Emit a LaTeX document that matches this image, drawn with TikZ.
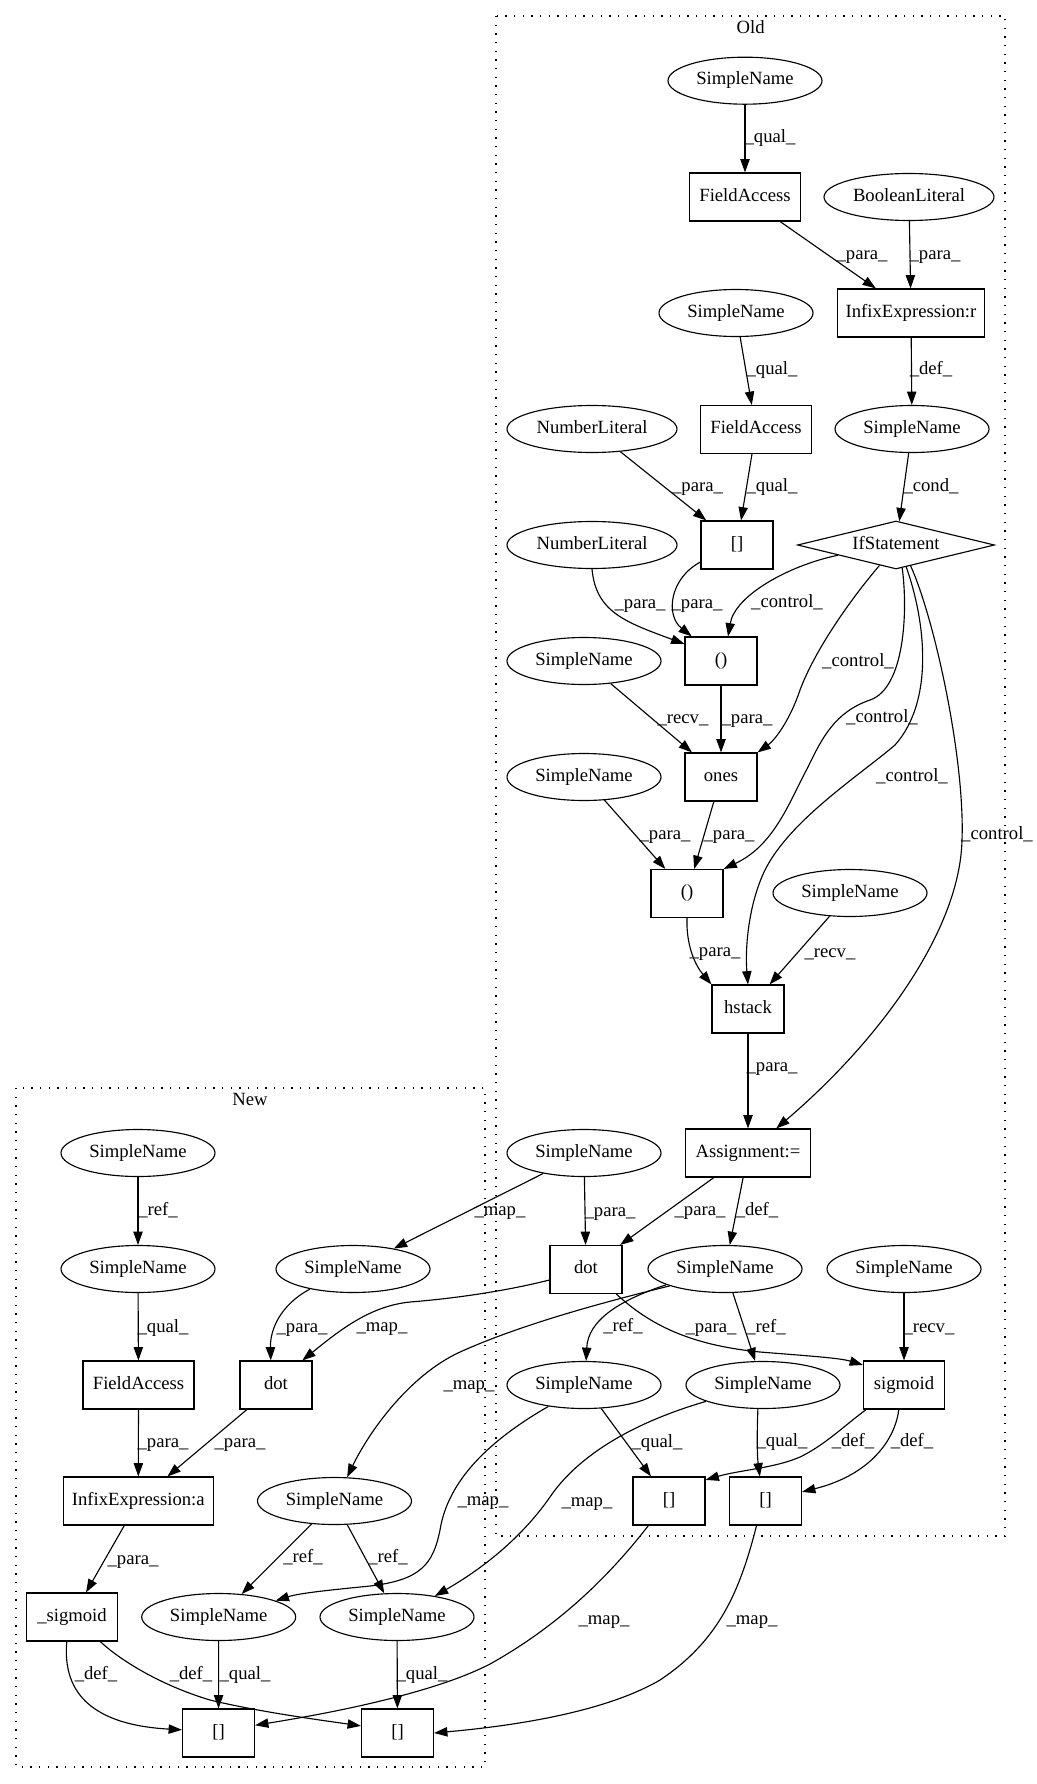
\documentclass[tikz,border=0pt]{standalone}
\usepackage{fontspec}
\setmainfont{Liberation Serif}
\usetikzlibrary{arrows.meta,shapes.geometric}
\begin{document}
\begin{tikzpicture}[x=0.75pt,y=-0.75pt,
  every node/.style={font=\fontsize{14pt}{16pt}\selectfont, text height=9.6pt, text depth=3.2pt},
  ell/.style={draw, ellipse, minimum width=115.5pt, minimum height=35.25pt, inner sep=0pt, line width=0.85pt},
  ellw/.style={ell, minimum width=127.5pt},
  bx/.style={draw, rectangle, minimum height=36pt, minimum width=54pt, inner sep=0pt, line width=0.85pt},
  dia/.style={draw, diamond, minimum width=147.75pt, minimum height=36pt, inner sep=0pt, aspect=4, line width=0.85pt},
  arr/.style={-{Triangle[length=10pt,width=7pt]}, line width=0.85pt},
  lbl/.style={inner sep=0pt},
  clus/.style={draw, line width=0.9pt, dash pattern=on 0.9pt off 5.6pt},
]
\fill[white] (0,0) rectangle (1037,1784);
\useasboundingbox (0,0) rectangle (1037,1784);

% clusters
\draw[clus] (496,16) rectangle (1005,1536);
\node[lbl] (oldlbl) at (750.7,29.5) {Old};
\draw[clus] (16,1088) rectangle (485,1767);
\node[lbl] (newlbl) at (250,1101.7) {New};

% Old nodes
\node[ell] (o_sn1) at (745,80.7) {SimpleName};
\node[bx, minimum width=83.25pt] (o_fa1) at (745,197) {FieldAccess};
\node[ellw] (o_bool) at (909,197) {BooleanLiteral};
\node[bx, minimum width=110.25pt] (o_infr) at (911,313) {InfixExpression:r};
\node[ell] (o_sn2) at (736,313) {SimpleName};
\node[ell] (o_sn3) at (912,429) {SimpleName};
\node[bx, minimum width=83.25pt] (o_fa2) at (756,429.5) {FieldAccess};
\node[ellw] (o_num1) at (592,429) {NumberLiteral};
\node[bx] (o_br1) at (737,545) {[]};
\node[dia] (o_if) at (896,545) {IfStatement};
\node[ellw] (o_num2) at (592,545) {NumberLiteral};
\node[bx] (o_par1) at (721,661) {()};
\node[ell] (o_snrecv) at (584,661) {SimpleName};
\node[bx] (o_ones) at (721,777) {ones};
\node[ell] (o_snpara) at (584,777) {SimpleName};
\node[bx] (o_par2) at (687,893.5) {()};
\node[ell] (o_snrh) at (850,893) {SimpleName};
\node[bx] (o_hstack) at (748,1009) {hstack};
\node[bx, minimum width=93.75pt] (o_assign) at (748,1153) {Assignment:=};
\node[ell] (o_snl) at (584,1153) {SimpleName};
\node[bx] (o_dot) at (586,1269.5) {dot};
\node[ell] (o_sndef) at (725,1269) {SimpleName};
\node[ell] (o_snrs) at (904,1269) {SimpleName};
\node[ell] (o_snrl) at (584,1385) {SimpleName};
\node[ell] (o_snrr) at (763,1385) {SimpleName};
\node[bx, minimum width=60.75pt] (o_sig) at (904,1385) {sigmoid};
\node[bx] (o_bra) at (669,1501) {[]};
\node[bx] (o_brb) at (765.5,1501) {[]};

% New nodes
\node[ell] (n_sn1) at (138,1153) {SimpleName};
\node[ell] (n_sn2) at (138,1269) {SimpleName};
\node[ell] (n_sndp) at (353,1269) {SimpleName};
\node[bx, minimum width=83.25pt] (n_fa) at (138.5,1385) {FieldAccess};
\node[bx] (n_dot) at (276,1385) {dot};
\node[bx, minimum width=112.5pt] (n_infa) at (138.3,1501) {InfixExpression:a};
\node[ell] (n_snmid) at (334.5,1501) {SimpleName};
\node[bx, minimum width=67.7pt] (n_sig) at (72,1617) {\_sigmoid};
\node[ell] (n_snlb) at (218.7,1617) {SimpleName};
\node[ell] (n_snrb) at (397,1617) {SimpleName};
\node[bx] (n_brl) at (218.5,1733) {[]};
\node[bx] (n_brr) at (397.5,1733) {[]};

% Old edges
\draw[arr] (o_sn1) -- (o_fa1);
\draw[arr] (o_fa1) -- (o_infr);
\draw[arr] (o_bool) -- (o_infr);
\draw[arr] (o_infr) -- (o_sn3);
\draw[arr] (o_sn2) -- (o_fa2);
\draw[arr] (o_sn3) -- (o_if);
\draw[arr] (o_num1) -- (o_br1);
\draw[arr] (o_fa2) -- (o_br1);
\draw[arr] (o_num2.south) .. controls (596,612) and (625,622) .. (o_par1.155);
\draw[arr] (o_br1.205) .. controls (670,578) and (665,615) .. (o_par1.140);
\draw[arr] (o_if.190) .. controls (790,565) and (735,595) .. (o_par1.74);
\draw[arr] (o_if.231) .. controls (850,600) and (815,650) .. (800,690) .. controls (790,720) and (775,740) .. (o_ones.north east);
\draw[arr] (o_if.285) .. controls (908,610) and (905,688) .. (870,700) .. controls (835,712) and (822,738) .. (808,767) .. controls (790,800) and (775,845) .. (o_par2.north east);
\draw[arr] (o_if.295) .. controls (925,620) and (935,700) .. (895,745) .. controls (860,775) and (790,820) .. (765,870) .. controls (748,905) and (745,950) .. (o_hstack.north);
\draw[arr] (o_if.305) .. controls (935,620) and (965,760) .. (962,840) .. controls (960,930) and (880,1040) .. (o_assign.41);
\draw[arr] (o_snrecv) -- (o_ones);
\draw[arr] (o_par1) -- (o_ones);
\draw[arr] (o_snpara) -- (o_par2);
\draw[arr] (o_ones) -- (o_par2);
\draw[arr] (o_par2.south) .. controls (686,945) and (695,965) .. (o_hstack.north west);
\draw[arr] (o_snrh) -- (o_hstack);
\draw[arr] (o_hstack) -- (o_assign);
\draw[arr] (o_snl) -- (o_dot);
\draw[arr] (o_assign) -- (o_dot);
\draw[arr] (o_assign) -- (o_sndef);
\draw[arr] (o_sndef.195) .. controls (620,1300) and (588,1320) .. (o_snrl.85);
\draw[arr] (o_sndef) -- (o_snrr);
\draw[arr] (o_dot.321) .. controls (650,1325) and (690,1345) .. (760,1352) .. controls (810,1356) and (840,1358) .. (o_sig.154);
\draw[arr] (o_snrs) -- (o_sig);
\draw[arr] (o_snrl) -- (o_bra);
\draw[arr] (o_snrr.258) .. controls (757,1430) and (757,1455) .. (o_brb.103);
\draw[arr] (o_sig.213) .. controls (845,1425) and (825,1445) .. (800,1457) .. controls (775,1468) and (740,1470) .. (o_bra.30);
\draw[arr] (o_sig.258) .. controls (895,1440) and (870,1475) .. (o_brb.14);

% cross edges
\draw[arr] (o_snl) -- (n_sndp);
\draw[arr] (o_dot.196) .. controls (510,1290) and (460,1298) .. (410,1302) .. controls (370,1306) and (340,1330) .. (n_dot.43);
\draw[arr] (o_sndef.197) .. controls (600,1303) and (520,1325) .. (460,1352) .. controls (410,1375) and (370,1430) .. (n_snmid.62);
\draw[arr] (o_snrl.211) .. controls (490,1440) and (448,1480) .. (440,1530) .. controls (433,1565) and (420,1580) .. (370,1586) .. controls (330,1590) and (300,1593) .. (n_snlb.16);
\draw[arr] (o_snrr.196) .. controls (625,1425) and (575,1460) .. (550,1497) .. controls (520,1540) and (480,1570) .. (n_snrb.29);
\draw[arr] (o_bra.230) .. controls (610,1575) and (560,1625) .. (490,1664) .. controls (440,1690) and (350,1710) .. (n_brl.12);
\draw[arr] (o_brb.250) .. controls (740,1590) and (720,1640) .. (660,1680) .. controls (600,1715) and (500,1727) .. (n_brr.east);

% New edges
\draw[arr] (n_sn1) -- (n_sn2);
\draw[arr] (n_sn2) -- (n_fa);
\draw[arr] (n_fa) -- (n_infa);
\draw[arr] (n_sndp.205) .. controls (280,1305) and (270,1330) .. (n_dot.102);
\draw[arr] (n_dot) -- (n_infa);
\draw[arr] (n_infa) -- (n_sig);
\draw[arr] (n_snmid) -- (n_snlb);
\draw[arr] (n_snmid) -- (n_snrb);
\draw[arr] (n_sig.258) .. controls (62,1695) and (95,1725) .. (n_brl.175);
\draw[arr] (n_sig.319) .. controls (120,1660) and (160,1685) .. (210,1700) .. controls (260,1712) and (320,1720) .. (n_brr.169);
\draw[arr] (n_snlb) -- (n_brl);
\draw[arr] (n_snrb) -- (n_brr);

% edge labels
\node[lbl] (l1) at (770,138.5) {\_qual\_};
\node[lbl] (l2) at (862,255) {\_para\_};
\node[lbl] (l3) at (935,255) {\_para\_};
\node[lbl] (l4) at (931,370.5) {\_def\_};
\node[lbl] (l5) at (772,370.5) {\_qual\_};
\node[lbl] (l6) at (931,487) {\_cond\_};
\node[lbl] (l7) at (697.5,487) {\_para\_};
\node[lbl] (l8) at (772,487) {\_qual\_};
\node[lbl] (l9) at (640,604) {\_para\_};
\node[lbl] (l10) at (697,604) {\_para\_};
\node[lbl] (l11) at (787,603) {\_control\_};
\node[lbl] (l12) at (858,662) {\_control\_};
\node[lbl] (l13) at (882,718) {\_control\_};
\node[lbl] (l14) at (912,777) {\_control\_};
\node[lbl] (l15) at (997,835) {\_control\_};
\node[lbl] (l16) at (683,719) {\_recv\_};
\node[lbl] (l17) at (747,719) {\_para\_};
\node[lbl] (l18) at (665,835) {\_para\_};
\node[lbl] (l19) at (729,835) {\_para\_};
\node[lbl] (l20) at (715,952) {\_para\_};
\node[lbl] (l21) at (830,953) {\_recv\_};
\node[lbl] (l22) at (772,1067) {\_para\_};
\node[lbl] (l23) at (610,1212) {\_para\_};
\node[lbl] (l24) at (700,1211) {\_para\_};
\node[lbl] (l25) at (757,1211) {\_def\_};
\node[lbl] (l26) at (623,1327) {\_ref\_};
\node[lbl] (l27) at (766,1328) {\_ref\_};
\node[lbl] (l28) at (711,1328) {\_para\_};
\node[lbl] (l29) at (929,1328) {\_recv\_};
\node[lbl] (l30) at (657,1443) {\_qual\_};
\node[lbl] (l31) at (782,1442) {\_qual\_};
\node[lbl] (l32) at (853,1442) {\_def\_};
\node[lbl] (l33) at (912,1442) {\_def\_};
\node[lbl] (l34) at (500,1211) {\_map\_};
\node[lbl] (l35) at (382,1327) {\_map\_};
\node[lbl] (l36) at (469,1385) {\_map\_};
\node[lbl] (l37) at (483,1501) {\_map\_};
\node[lbl] (l38) at (587,1502) {\_map\_};
\node[lbl] (l39) at (604,1620) {\_map\_};
\node[lbl] (l40) at (752,1620) {\_map\_};
\node[lbl] (l41) at (158,1211) {\_ref\_};
\node[lbl] (l42) at (163,1328) {\_qual\_};
\node[lbl] (l43) at (163,1443) {\_para\_};
\node[lbl] (l44) at (302,1328) {\_para\_};
\node[lbl] (l45) at (240,1443) {\_para\_};
\node[lbl] (l46) at (133,1560) {\_para\_};
\node[lbl] (l47) at (303,1558) {\_ref\_};
\node[lbl] (l48) at (388,1558) {\_ref\_};
\node[lbl] (l49) at (96,1675) {\_def\_};
\node[lbl] (l50) at (191,1675) {\_def\_};
\node[lbl] (l51) at (245,1675) {\_qual\_};
\node[lbl] (l52) at (422,1675) {\_qual\_};
\end{tikzpicture}
\end{document}
